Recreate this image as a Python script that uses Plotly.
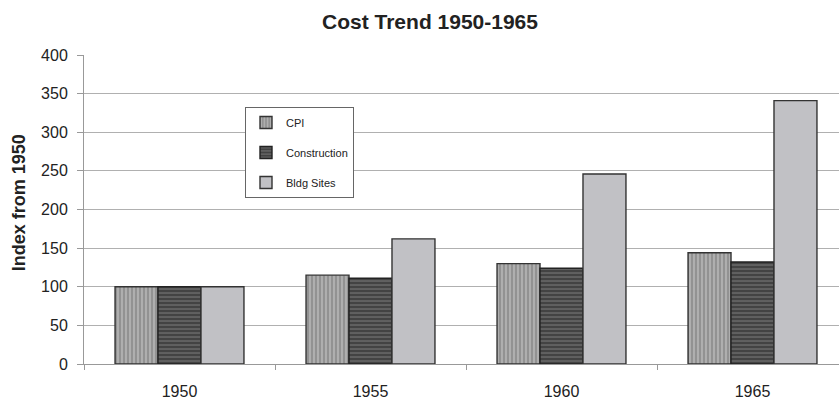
import plotly.graph_objects as go

# Cost index data (1950 = 100)
years = ["1950", "1955", "1960", "1965"]
cpi = [100, 115, 130, 144]
construction = [100, 111, 124, 132]
bldg_sites = [100, 162, 246, 341]
y_ticks = [0, 50, 100, 150, 200, 250, 300, 350, 400]

FONT = "Liberation Sans, Arial, sans-serif"
W, H = 839, 400
L, T, B = 84, 55, 36

fig = go.Figure()

fig.add_trace(go.Bar(
    name="CPI", x=years, y=cpi, legendgroup="a",
    marker=dict(
        color="#929292",
        line=dict(color="#333333", width=1.4),
        pattern=dict(shape="|", fgcolor="#f2f2f2", size=4, solidity=0.3),
    ),
))
fig.add_trace(go.Bar(
    name="Construction", x=years, y=construction, legendgroup="b",
    marker=dict(
        color="#434343",
        line=dict(color="#222222", width=1.4),
        pattern=dict(shape="-", fgcolor="#cfcfcf", size=4, solidity=0.2),
    ),
))
fig.add_trace(go.Bar(
    name="Bldg Sites", x=years, y=bldg_sites, legendgroup="c",
    marker=dict(color="#c1c1c5", line=dict(color="#333333", width=1.4)),
))

fig.update_layout(
    width=W, height=H,
    margin=dict(l=L, r=0, t=T, b=B),
    paper_bgcolor="white", plot_bgcolor="white",
    font=dict(family=FONT, color="#222222", size=16),
    barmode="group", bargap=0.325, bargroupgap=0,
    title=dict(
        text="<b>Cost Trend 1950-1965</b>",
        font=dict(size=21, family=FONT, color="#222222"),
        xref="container", x=430 / W, xanchor="center",
        yref="container", y=1 - 22 / H, yanchor="middle",
    ),
    showlegend=True,
    legend=dict(
        x=(245 - L) / (W - L), xanchor="left",
        y=(364 - 107) / (H - T - B), yanchor="top",
        bgcolor="white", bordercolor="#666666", borderwidth=1,
        font=dict(size=11, family=FONT, color="#222222"),
        tracegroupgap=11,
        traceorder="grouped",
    ),
)

fig.update_xaxes(
    type="category",
    range=[-0.5, -0.5 + (W - L) / 191.0],
    showgrid=False,
    showline=True, linecolor="#999999", linewidth=1,
    ticks="outside", tickson="boundaries", ticklen=5, tickcolor="#999999",
    tickfont=dict(size=16, family=FONT, color="#222222"),
    ticklabelstandoff=13,
    automargin=False,
)
fig.update_yaxes(
    range=[0, 400],
    tickvals=y_ticks,
    showgrid=True, gridcolor="#b0b0b0", gridwidth=1,
    showline=True, linecolor="#999999", linewidth=1,
    ticks="outside", ticklen=6, tickcolor="#999999",
    tickfont=dict(size=16, family=FONT, color="#222222"),
    ticklabelstandoff=6,
    zeroline=False,
    automargin=False,
)

fig.add_annotation(
    text="<b>Index from 1950</b>", textangle=-90,
    xref="paper", x=(19 - L) / (W - L), xanchor="center",
    yref="paper", y=0.52, yanchor="middle",
    showarrow=False,
    font=dict(size=18, family=FONT, color="#222222"),
)

fig.write_html("out.html")
